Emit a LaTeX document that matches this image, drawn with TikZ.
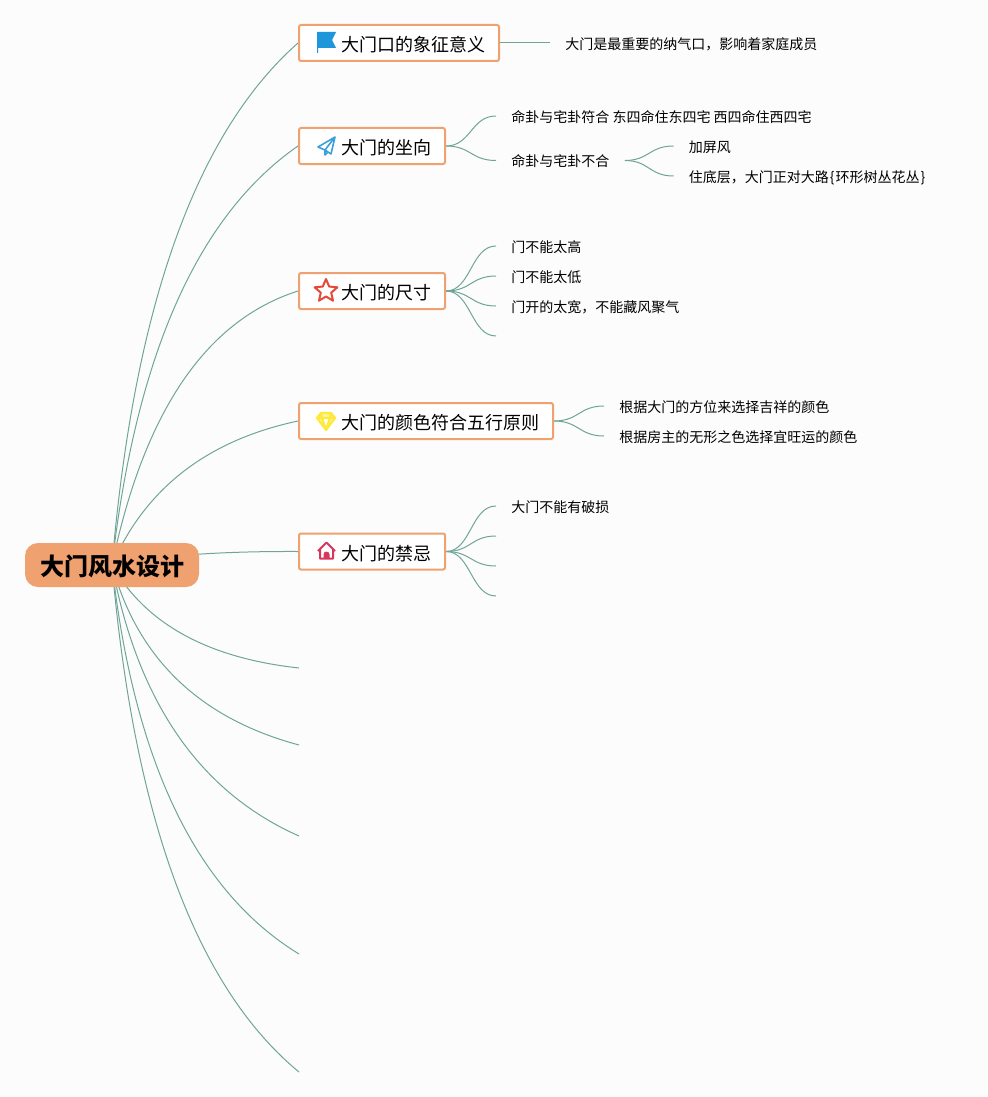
\documentclass[tikz,border=0pt]{standalone}
\usepackage{fontspec}
\setmainfont{Noto Sans CJK SC}
\usepackage{xcolor}
\usepackage{tikz}
\usetikzlibrary{calc}
\usetikzlibrary{backgrounds}
\definecolor{pagebg}{HTML}{FCFCFC}
\definecolor{linkc}{HTML}{6FA597}
\definecolor{boxc}{HTML}{EFA16F}
\definecolor{flagc}{HTML}{1F96D9}
\definecolor{planec}{HTML}{3B9FDC}
\definecolor{starc}{HTML}{E5493A}
\definecolor{gemc}{HTML}{FFE93B}
\definecolor{gemf}{HTML}{FFF59D}
\definecolor{housec}{HTML}{D9365E}
\tikzstyle{root} = [rectangle, fill=boxc, rounded corners=6.5pt, minimum width=87pt, minimum height=22pt, inner sep=0pt, text height=11pt, text depth=1pt, font=\fontsize{12}{14}\selectfont\bfseries]
\tikzstyle{topic} = [rectangle, draw=boxc, line width=1pt, fill=white, rounded corners=1pt, anchor=west, minimum height=18pt, inner xsep=7pt, inner ysep=0pt, text height=9.6pt, text depth=1pt, font=\fontsize{9}{11}\selectfont]
\tikzstyle{leaf} = [rectangle, anchor=west, inner xsep=7.5pt, inner ysep=1pt, text height=7.3pt, text depth=1pt, font=\fontsize{7}{9}\selectfont]
\tikzstyle{link} = [draw=linkc, line width=0.5pt]
\tikzset{
	flagicon/.pic={\fill[flagc] (19,-11) -- (38,-11) -- (34,-3) -- (38,5) -- (20,5) -- (20,10) -- (19,10) -- cycle;},
	planeicon/.pic={\draw[planec, line width=0.8pt, line join=round] (20,1) -- (37,-9) -- (33,8) -- (27,4) -- cycle (37,-9) -- (27,4) -- (27,9) -- (30,6);},
	staricon/.pic={\draw[starc, line width=1pt, line join=round] (28,-12) -- (31.2,-4.45) -- (39.4,-3.7) -- (33.2,1.7) -- (35.05,9.7) -- (28,5.5) -- (20.95,9.7) -- (22.8,1.7) -- (16.6,-3.7) -- (24.8,-4.45) -- cycle;},
	gemicon/.pic={\draw[gemc, fill=gemf, line width=1.1pt, line join=round] (23,-8) -- (33,-8) -- (37,-3) -- (28,9) -- (19,-3) -- cycle (19,-3) -- (37,-3) (24,-3) -- (28,9) -- (32,-3) (23,-8) -- (24,-3) (33,-8) -- (32,-3);},
	houseicon/.pic={\draw[housec, line width=1pt, line join=round] (20,-0.5) -- (28.5,-9) -- (37,-0.5) (22,-2) -- (22,7) -- (35,7) -- (35,-2);
		\fill[housec] (25.5,7) -- (25.5,3) arc[start angle=180, end angle=360, radius=3] -- (31.5,7) -- cycle;}
}

\begin{document}
\begin{tikzpicture}[x=0.5pt,y=-0.5pt]
	\useasboundingbox (0,0) rectangle (987,1097);
	% main branches
	\node[root] (r) at (112,565) {大门风水设计};
	\node[topic] (b1) at (298,43) {\hspace{14pt}大门口的象征意义};
	\node[topic] (b2) at (298,146) {\hspace{14pt}大门的坐向};
	\node[topic] (b3) at (298,291) {\hspace{14pt}大门的尺寸};
	\node[topic] (b4) at (298,421) {\hspace{14pt}大门的颜色符合五行原则};
	\node[topic] (b5) at (298,551.5) {\hspace{14pt}大门的禁忌};
	\pic at (b1.west) {flagicon};
	\pic at (b2.west) {planeicon};
	\pic at (b3.west) {staricon};
	\pic at (b4.west) {gemicon};
	\pic at (b5.west) {houseicon};
	% free ends
	\coordinate (e1) at (299,668);
	\coordinate (e2) at (299,745);
	\coordinate (e3) at (299,836);
	\coordinate (e4) at (299,954);
	\coordinate (e5) at (299,1072);
	\coordinate (c34) at (496,336);
	\coordinate (c52) at (496,536);
	\coordinate (c53) at (496,566);
	\coordinate (c54) at (496,596);
	% leaves
	\node[leaf] (l11) at (550,43) {大门是最重要的纳气口，影响着家庭成员};
	\node[leaf] (l21) at (496,116) {命卦与宅卦符合 东四命住东四宅 西四命住西四宅};
	\node[leaf] (l22) at (496,160.5) {命卦与宅卦不合};
	\node[leaf] (l221) at (673.5,146) {加屏风};
	\node[leaf] (l222) at (673.5,176) {住底层，大门正对大路\kern0.5pt\{\kern0.5pt 环形树丛花丛\kern0.5pt\}};
	\node[leaf] (l31) at (496,246) {门不能太高};
	\node[leaf] (l32) at (496,276) {门不能太低};
	\node[leaf] (l33) at (496,306) {门开的太宽，不能藏风聚气};
	\node[leaf] (l41) at (604,406) {根据大门的方位来选择吉祥的颜色};
	\node[leaf] (l42) at (604,436) {根据房主的无形之色选择宜旺运的颜色};
	\node[leaf] (l51) at (496,506) {大门不能有破损};
	\begin{scope}[on background layer]
		\fill[pagebg] (0,0) rectangle (987,1097);
		% links from the root
		\foreach \to/\cx/\cy in {b1/145/178,b2/148/250,b3/160/335,b4/162/450,b5/180/551}
			\draw[link] (r.center) .. controls ($(r.center)!0.667!(\cx,\cy)$) and ($(\to.west)!0.667!(\cx,\cy)$) .. (\to.west);
		\foreach \to/\cx/\cy in {e1/162/653,e2/150/705,e3/150/770,e4/145/860,e5/145/945}
			\draw[link] (r.center) .. controls ($(r.center)!0.667!(\cx,\cy)$) and ($(\to)!0.667!(\cx,\cy)$) .. (\to);
		\draw[link] (b1.east) -- (l11.west);
		% links to the leaves
		\foreach \from/\to in {b2/l21,b2/l22,l22/l221,l22/l222,b3/l31,b3/l32,b3/l33,b3/c34,b4/l41,b4/l42,b5/l51,b5/c52,b5/c53,b5/c54}
			\draw[link] (\from.east) .. controls ($(\from.east)!0.5!(\to.west |- \from.east)$) and ($(\from.east |- \to.west)!0.5!(\to.west)$) .. (\to.west);
	\end{scope}
\end{tikzpicture}
\end{document}
